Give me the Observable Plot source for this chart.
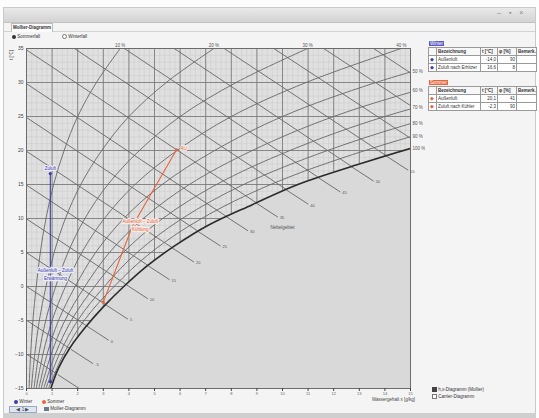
<!DOCTYPE html>
<html><head><meta charset="utf-8">
<script src="https://cdn.jsdelivr.net/npm/d3@7"></script>
<script src="https://cdn.jsdelivr.net/npm/@observablehq/plot@0.6"></script>
<style>
html,body{margin:0;padding:0;width:539px;height:418px;overflow:hidden;background:#fdfdfd;font-family:"Liberation Sans",Arial,sans-serif;color:#333;}
.abs{position:absolute;}
table{border-collapse:collapse;background:#fff;font-size:4.5px;table-layout:fixed;}
td{border:1px solid #9a9a9a;height:7px;padding:0 1px;white-space:nowrap;overflow:hidden;}
th{border:1px solid #9a9a9a;height:7px;padding:0 1px;font-weight:bold;text-align:left;white-space:nowrap;background:#f7f7f7}
.num{text-align:right}
.sm{font-size:4.5px;white-space:nowrap}
</style></head><body>
<div class="abs" style="left:3px;top:7px;width:533px;height:407px;background:#f4f4f4;border:1px solid #c9c9c9;box-sizing:border-box"></div>
<div class="abs" style="left:4px;top:8px;width:531px;height:14px;background:linear-gradient(#e9e9e9,#d3d3d3);border-bottom:1px solid #c2c2c2"></div>
<div class="abs" style="left:497px;top:9px;font-size:7px;color:#888;letter-spacing:8px">–▪×</div>
<div class="abs" style="left:4px;top:31px;width:531px;border-top:1px solid #d2d2d2"></div>
<div class="abs sm" style="left:11px;top:23px;width:40px;height:8px;line-height:8px;background:#fbfbfb;border:1px solid #bdbdbd;border-bottom:none;font-weight:bold;text-align:center">Mollier-Diagramm</div>
<div class="abs sm" style="left:12px;top:34px;line-height:6px"><span style="display:inline-block;width:4px;height:4px;border-radius:50%;background:#333;vertical-align:middle"></span> Sommerfall</div>
<div class="abs sm" style="left:62px;top:34px;line-height:6px"><span style="display:inline-block;width:3px;height:3px;border-radius:50%;border:0.6px solid #777;background:#fff;vertical-align:middle"></span> Winterfall</div>
<div class="abs sm" style="left:9px;top:60px;transform:rotate(-90deg);transform-origin:left top;color:#444">t [°C]</div>
<div class="abs sm" style="left:372px;top:397px;color:#444">Wassergehalt x [g/kg]</div>

<div class="abs sm" style="left:429px;top:41px;color:#fff;background:#5b5bc0;padding:0 1px;line-height:5px">Winter</div>
<table class="abs" style="left:428px;top:47px;width:108px">
<colgroup><col style="width:8px"><col style="width:44px"><col style="width:17px"><col style="width:19px"><col style="width:20px"></colgroup>
<tr><th></th><th>Bezeichnung</th><th>t [°C]</th><th>φ [%]</th><th>Bemerk.</th></tr>
<tr><td style="color:#3b3ba8">◆</td><td>Außenluft</td><td class="num">-14,0</td><td class="num">90</td><td></td></tr>
<tr><td style="color:#3b3ba8">◆</td><td>Zuluft nach Erhitzer</td><td class="num">16,6</td><td class="num">8</td><td></td></tr>
</table>
<div class="abs sm" style="left:429px;top:80px;color:#fff;background:#e8643c;padding:0 1px;line-height:5px">Sommer</div>
<table class="abs" style="left:428px;top:86px;width:108px">
<colgroup><col style="width:8px"><col style="width:44px"><col style="width:17px"><col style="width:19px"><col style="width:20px"></colgroup>
<tr><th></th><th>Bezeichnung</th><th>t [°C]</th><th>φ [%]</th><th>Bemerk.</th></tr>
<tr><td style="color:#e8643c">◆</td><td>Außenluft</td><td class="num">20,1</td><td class="num">41</td><td></td></tr>
<tr><td style="color:#e8643c">◆</td><td>Zuluft nach Kühler</td><td class="num">-2,3</td><td class="num">90</td><td></td></tr>
</table>

<div class="abs sm" style="left:432px;top:386px;line-height:7px"><span style="display:inline-block;width:3px;height:3px;background:#444;border:0.6px solid #444;vertical-align:middle"></span> h,x-Diagramm (Mollier)<br><span style="display:inline-block;width:3px;height:3px;background:#fff;border:0.6px solid #777;vertical-align:middle"></span> Carrier-Diagramm</div>

<div class="abs sm" style="left:14px;top:399px;line-height:6px"><span style="display:inline-block;width:4px;height:4px;border-radius:50%;background:#3b3ba8;vertical-align:middle"></span> Winter</div>
<div class="abs sm" style="left:42px;top:399px;line-height:6px"><span style="display:inline-block;width:4px;height:4px;border-radius:50%;background:#e8643c;vertical-align:middle"></span> Sommer</div>
<div class="abs sm" style="left:9px;top:406px;width:26px;height:5px;line-height:5px;border:1px solid #9aa8c0;background:#dfe6f2;text-align:center;color:#445">◀ 1 ▶</div>
<div class="abs sm" style="left:44px;top:406px;line-height:6px"><span style="display:inline-block;width:5px;height:4px;background:#6a7a8a;vertical-align:middle"></span> Mollier-Diagramm</div>
<div class="abs" style="left:3px;top:413px;width:533px;height:5px;background:#cfcfcf"></div>

<div id="chart" class="abs" style="left:0;top:0"></div>
<script>
// ---- axes ----
const tempTicks = [-15, -10, -5, 0, 5, 10, 15, 20, 25, 30, 35];
const xTicks = [0, 1, 2, 3, 4, 5, 6, 7, 8, 9, 10, 11, 12, 13, 14, 15];

// ---- saturation curve (phi = 100 %) ----
const satT = [-15, -12, -9, -6, -3, 0, 3, 6, 9, 12, 15, 18, 20.3, 22, 25, 30, 35];
const satX = [0.95, 1.25, 1.7, 2.3, 3.0, 3.8, 4.7, 5.8, 7.1, 8.8, 10.6, 13.0, 15.0, 16.7, 20.0, 27.3, 36.6];

// ---- relative humidity curves ----
const phiT = [-15, -10, -5, 0, 5, 10, 15, 20, 25, 30, 35];
const phi10 = [0.10, 0.16, 0.25, 0.38, 0.54, 0.76, 1.06, 1.47, 2.0, 2.73, 3.66];
const phi20 = [0.19, 0.32, 0.5, 0.76, 1.08, 1.52, 2.12, 2.94, 4.0, 5.46, 7.32];
const phi30 = [0.29, 0.48, 0.75, 1.14, 1.62, 2.28, 3.18, 4.41, 6.0, 8.19, 10.98];
const phi40 = [0.38, 0.64, 1.0, 1.52, 2.16, 3.04, 4.24, 5.88, 8.0, 10.92, 14.64];
const phi50 = [0.48, 0.8, 1.25, 1.9, 2.7, 3.8, 5.3, 7.35, 10.0, 13.65, 18.3];
const phi60 = [0.57, 0.96, 1.5, 2.28, 3.24, 4.56, 6.36, 8.82, 12.0, 16.38, 21.96];
const phi70 = [0.67, 1.12, 1.75, 2.66, 3.78, 5.32, 7.42, 10.29, 14.0, 19.11, 25.62];
const phi80 = [0.76, 1.28, 2.0, 3.04, 4.32, 6.08, 8.48, 11.76, 16.0, 21.84, 29.28];
const phi90 = [0.86, 1.44, 2.25, 3.42, 4.86, 6.84, 9.54, 13.23, 18.0, 24.57, 32.94];
const phiTopLabels = ["10 %", "20 %", "30 %", "40 %"];
const phiTopX = [3.66, 7.32, 10.98, 14.64];
const phiRightLabels = ["50 %", "60 %", "70 %", "80 %", "90 %", "100 %"];
const phiRightT = [31.6, 28.8, 26.3, 23.9, 22.0, 20.3];

// ---- isenthalps (kJ/kg) ----
const hVal   = [-10, -5, 0, 5, 10, 15, 20, 25, 30, 35, 40, 45, 50, 55, 60, 65, 70];
const hStartX = [0, 0, 0, 0, 0, 0, 0, 0, 0, 0, 1.87, 3.82, 5.77, 7.72, 9.66, 11.61, 13.56];
const hStartT = [-9.94, -4.97, 0, 4.97, 9.94, 14.91, 19.88, 24.85, 29.82, 34.79, 35, 35, 35, 35, 35, 35, 35];
const hSatX  = [1.22, 1.74, 2.35, 3.1, 3.88, 4.73, 5.68, 6.72, 7.79, 8.96, 10.15, 11.4, 12.7, 14.05, 15, 15, 15];
const hSatT  = [-12.95, -9.25, -5.8, -2.7, 0.3, 3.1, 5.7, 8.05, 10.3, 12.3, 14.2, 16.0, 17.6, 19.2, 21.8, 26.6, 31.4];
const hEndX  = [2.08, 2.6, 3.21, 3.96, 4.74, 5.59, 6.54, 7.58, 8.65, 9.82, 11.01, 12.26, 13.56, 14.91, 15, 15, 15];
const hEndT  = [-15.05, -11.35, -7.9, -4.8, -1.8, 1.0, 3.6, 5.95, 8.2, 10.2, 12.1, 13.9, 15.5, 17.1, 21.8, 26.6, 31.4];

// ---- processes ----
const winterX = [0.93, 0.93];
const winterT = [-14.0, 16.6];
const summerX = [5.86, 4.14, 3.0];
const summerT = [20.1, 8.9, -2.3];
const winterLabel = ["Außenluft – Zuluft", "Erwärmung"];
const summerLabel = ["Außenluft – Zuluft", "Kühlung"];

// ---- build tables ----
const sat = satT.map((t, i) => ({t, x: satX[i]}));
const fog = sat.filter(d => d.t <= 20.3);
const phiSets = [[10, phi10], [20, phi20], [30, phi30], [40, phi40], [50, phi50], [60, phi60], [70, phi70], [80, phi80], [90, phi90]];
const phiData = phiSets.flatMap(([p, arr]) => arr.map((x, i) => ({phi: p, x, t: phiT[i]})));
const hs = hVal.map((h, i) => ({h, x0: hStartX[i], t0: hStartT[i], xs: hSatX[i], ts: hSatT[i], xe: hEndX[i], te: hEndT[i]}));
const hExt = hs.filter(d => d.xe > d.xs);
const winter = winterX.map((x, i) => ({x, t: winterT[i]}));
const summer = summerX.map((x, i) => ({x, t: summerT[i]}));

const lineCol = "#666";
const blue = "#3b3ba8", orange = "#e8643c";

const chart = Plot.plot({
  width: 425, height: 418,
  marginLeft: 26, marginRight: 15, marginTop: 48, marginBottom: 30,
  x: {domain: [0, 15]},
  y: {domain: [-15, 35]},
  style: {background: "transparent", fontFamily: "Liberation Sans, Arial, sans-serif", fontSize: "5px", color: "#444"},
  marks: [
    Plot.frame({fill: "#e0e0e0"}),
    Plot.ruleX(d3.range(0, 15.001, 0.2), {stroke: "#c8c8c8", strokeWidth: 0.5}),
    Plot.ruleY(d3.range(-15, 35.001, 1), {stroke: "#c8c8c8", strokeWidth: 0.5}),
    Plot.ruleX(xTicks, {stroke: "#777", strokeWidth: 0.85}),
    Plot.ruleY(tempTicks, {stroke: "#777", strokeWidth: 0.85}),
    Plot.link(hs, {x1: "x0", y1: "t0", x2: "xe", y2: "te", stroke: lineCol, strokeWidth: 0.9, clip: true}),
    Plot.line(phiData, {x: "x", y: "t", z: "phi", curve: "catmull-rom", stroke: lineCol, strokeWidth: 0.9, clip: true}),
    Plot.areaX(fog, {x1: "x", x2: () => 15, y: "t", curve: "catmull-rom", fill: "#d9d9d9", clip: true}),
    Plot.link(hExt, {x1: "xs", y1: "ts", x2: "xe", y2: "te", stroke: lineCol, strokeWidth: 0.9, clip: true}),
    Plot.text(hExt.filter(d => d.te > -14.5), {x: "xe", y: "te", text: d => String(d.h), dx: 2, dy: 1, textAnchor: "start", fontSize: 4, fill: "#555"}),
    Plot.line(sat, {x: "x", y: "t", curve: "catmull-rom", stroke: "#2b2b2b", strokeWidth: 1.6, clip: true}),
    Plot.frame({stroke: "#666", strokeWidth: 0.8}),
    Plot.axisY({ticks: tempTicks, tickSize: 0, tickPadding: 3, label: null, fontSize: 5}),
    Plot.axisX({ticks: xTicks, tickSize: 3, tickPadding: 1, label: null, fontSize: 4, fill: "#666"}),
    Plot.text(phiTopLabels, {x: (d, i) => phiTopX[i], y: () => 35, text: d => d, dy: -3, fontSize: 4.5, fill: "#555"}),
    Plot.text(phiRightLabels, {x: () => 15, y: (d, i) => phiRightT[i], text: d => d, dx: 2, textAnchor: "start", fontSize: 4.5, fill: "#555"}),
    Plot.text(["Nebelgebiet"], {x: () => 10.0, y: () => 8.7, text: d => d, fontSize: 4.5, fill: "#555"}),
    // winter process
    Plot.line(winter, {x: "x", y: "t", stroke: blue, strokeWidth: 1.1}),
    Plot.dot(winter, {x: "x", y: "t", r: 1.6, fill: blue}),
    Plot.text(["Zuluft"], {x: () => winterX[1], y: () => winterT[1], text: d => d, dy: -5, fontSize: 4.5, fill: blue, stroke: "#ececf6", strokeWidth: 2}),
    Plot.text(winterLabel, {x: () => 1.13, y: (d, i) => [2.3, 1.1][i], text: d => d, fontSize: 4.5, fill: blue, stroke: "#ececf6", strokeWidth: 2.5}),
    // summer process
    Plot.line(summer, {x: "x", y: "t", stroke: orange, strokeWidth: 1.1}),
    Plot.dot([summer[0], summer[2]], {x: "x", y: "t", r: 1.6, fill: orange}),
    Plot.text(["AU"], {x: () => summerX[0], y: () => summerT[0], text: d => d, dx: 4, dy: -1, textAnchor: "start", fontSize: 4.5, fill: orange, stroke: "#f6ece8", strokeWidth: 2}),
    Plot.text(summerLabel, {x: () => 4.44, y: (d, i) => [9.5, 8.4][i], text: d => d, fontSize: 4.5, fill: orange, stroke: "#f6ece8", strokeWidth: 2.5})
  ]
});
document.getElementById("chart").appendChild(chart);
</script>
</body></html>
